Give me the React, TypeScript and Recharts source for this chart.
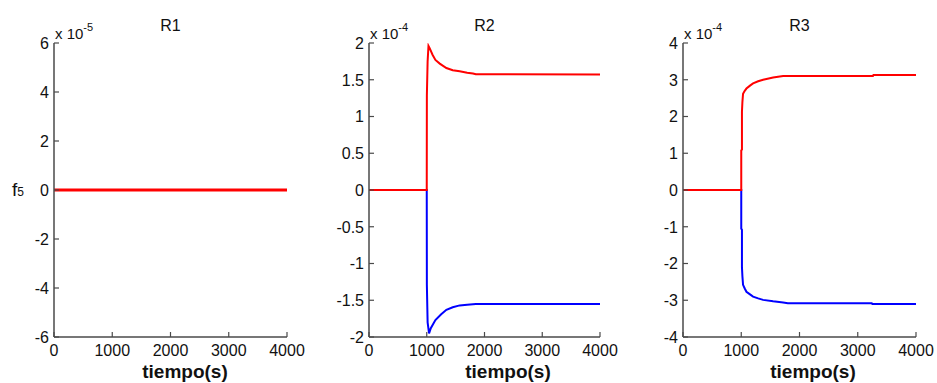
import React from 'react'
import { LineChart, Line, XAxis, YAxis } from 'recharts'

// f5 response of the three reactors, values in units of the multiplier shown above each axis
const TIME_TICKS = [0, 1000, 2000, 3000, 4000]
const R1_TICKS = [-6, -4, -2, 0, 2, 4, 6]
const R2_TICKS = [-2, -1.5, -1, -0.5, 0, 0.5, 1, 1.5, 2]
const R3_TICKS = [-4, -3, -2, -1, 0, 1, 2, 3, 4]

// [tiempo (s), f5]
const R1_RED: [number, number][] = [[0, 0], [4000, 0]]
const R1_BLUE: [number, number][] = [[0, 0], [4000, 0]]

const R2_RED: [number, number][] = [
  [0, 0], [1000, 0], [1002, 1.29], [1015, 1.75], [1030, 1.96], [1050, 1.93], [1100, 1.84],
  [1150, 1.77], [1225, 1.72], [1340, 1.66], [1450, 1.63], [1570, 1.615], [1700, 1.595],
  [1800, 1.585], [1850, 1.575], [4000, 1.57],
]
const R2_BLUE: [number, number][] = [
  [0, 0], [1000, 0], [1002, -1.29], [1015, -1.8], [1040, -1.95], [1070, -1.88], [1150, -1.77],
  [1250, -1.69], [1340, -1.63], [1450, -1.595], [1570, -1.57], [1700, -1.56], [1850, -1.55],
  [4000, -1.55],
]

const R3_RED: [number, number][] = [
  [0, 0], [1000, 0], [1000, 1.08], [1012, 1.1], [1012, 2.13], [1020, 2.4], [1031, 2.62],
  [1060, 2.7], [1089, 2.76], [1150, 2.84], [1203, 2.9], [1290, 2.96], [1375, 3.0],
  [1547, 3.06], [1719, 3.1], [3260, 3.1], [3270, 3.13], [4000, 3.13],
]
const R3_BLUE: [number, number][] = [
  [0, 0], [1000, 0], [1000, -1.05], [1012, -1.08], [1012, -2.1], [1020, -2.35], [1031, -2.58],
  [1060, -2.68], [1089, -2.77], [1150, -2.84], [1203, -2.9], [1290, -2.95], [1375, -2.99],
  [1547, -3.03], [1719, -3.06], [1800, -3.08], [3240, -3.08], [3250, -3.1], [4000, -3.1],
]

const FONT = '"Liberation Sans", Arial, sans-serif'
const AXIS = '#4a4a4a'
const TEXT = '#111'
const RED = '#ff0000'
const BLUE = '#0000ff'

const toRows = (pts: [number, number][]) => pts.map(([t, v]) => ({ t, v }))

// MATLAB-style ticks: short marks pointing into the plot, labels outside
function YTick({ x, y, payload }: any) {
  return (
    <g>
      <line x1={x} x2={x + 5} y1={y} y2={y} stroke={AXIS} strokeWidth={1.2} />
      <text x={x - 5} y={y} dy="0.36em" textAnchor="end" fontSize={16} fill={TEXT} fontFamily={FONT}>
        {String(payload.value)}
      </text>
    </g>
  )
}

function XTick({ x, y, payload }: any) {
  return (
    <g>
      <line x1={x} x2={x} y1={y} y2={y - 5} stroke={AXIS} strokeWidth={1.2} />
      <text x={x} y={y + 19} textAnchor="middle" fontSize={16} fill={TEXT} fontFamily={FONT}>
        {String(payload.value)}
      </text>
    </g>
  )
}

interface PanelProps {
  left: number
  width: number
  axisWidth: number
  rightMargin: number
  ticks: number[]
  red: [number, number][]
  blue: [number, number][]
  redWidth: number
  blueWidth: number
  title: string
  exponent: string
  xLabelCenter: number
}

const TOP = 43
const BOTTOM = 46
const HEIGHT = 383

function Panel({
  left, width, axisWidth, rightMargin, ticks, red, blue, redWidth, blueWidth, title, exponent, xLabelCenter,
}: PanelProps) {
  const plotLeft = axisWidth
  const plotRight = width - rightMargin
  return (
    <div style={{ position: 'absolute', left, top: 0, width, height: HEIGHT }}>
      <LineChart width={width} height={HEIGHT} margin={{ top: TOP, right: rightMargin, bottom: 0, left: 0 }}>
        <XAxis
          type="number"
          dataKey="t"
          domain={[0, 4000]}
          ticks={TIME_TICKS}
          interval={0}
          height={BOTTOM}
          tickSize={0}
          tickMargin={0}
          tick={<XTick />}
          axisLine={{ stroke: AXIS, strokeWidth: 1.5 }}
          allowDataOverflow
        />
        <YAxis
          type="number"
          dataKey="v"
          domain={[ticks[0], ticks[ticks.length - 1]]}
          ticks={ticks}
          interval={0}
          width={axisWidth}
          tickSize={0}
          tickMargin={0}
          tick={<YTick />}
          axisLine={{ stroke: AXIS, strokeWidth: 1.5 }}
          allowDataOverflow
        />
        <Line data={toRows(blue)} dataKey="v" type="linear" stroke={BLUE} strokeWidth={blueWidth} dot={false} isAnimationActive={false} />
        <Line data={toRows(red)} dataKey="v" type="linear" stroke={RED} strokeWidth={redWidth} dot={false} isAnimationActive={false} />
      </LineChart>
      <div
        style={{
          position: 'absolute', left: plotLeft, width: plotRight - plotLeft, top: 16,
          textAlign: 'center', fontFamily: FONT, fontSize: 16, color: TEXT, lineHeight: '20px',
        }}
      >
        {title}
      </div>
      <div
        style={{
          position: 'absolute', left: plotLeft + 1, top: 20, fontFamily: FONT, fontSize: 15,
          color: TEXT, lineHeight: '18px', whiteSpace: 'nowrap',
        }}
      >
        x 10<sup style={{ fontSize: 11, position: 'relative', top: -2 }}>{exponent}</sup>
      </div>
      <div
        style={{
          position: 'absolute', left: xLabelCenter - left - 60, width: 120, top: 361,
          textAlign: 'center', fontFamily: FONT, fontSize: 19, fontWeight: 'bold',
          color: TEXT, lineHeight: '22px',
        }}
      >
        tiempo(s)
      </div>
    </div>
  )
}

export default function App() {
  return (
    <div style={{ position: 'absolute', left: 0, top: 0, width: 937, height: HEIGHT, background: '#fff', overflow: 'hidden' }}>
      <Panel left={0} width={310} axisWidth={54} rightMargin={23} ticks={R1_TICKS} red={R1_RED} blue={R1_BLUE}
        redWidth={3} blueWidth={1} title="R1" exponent="-5" xLabelCenter={185} />
      <Panel left={310} width={310} axisWidth={59} rightMargin={20} ticks={R2_TICKS} red={R2_RED} blue={R2_BLUE}
        redWidth={2} blueWidth={2} title="R2" exponent="-4" xLabelCenter={508} />
      <Panel left={620} width={317} axisWidth={63} rightMargin={21} ticks={R3_TICKS} red={R3_RED} blue={R3_BLUE}
        redWidth={2} blueWidth={2} title="R3" exponent="-4" xLabelCenter={813} />
      <div style={{ position: 'absolute', left: 12, top: 180, fontFamily: FONT, color: TEXT, whiteSpace: 'nowrap', lineHeight: '20px' }}>
        <span style={{ fontSize: 19 }}>f</span>
        <span style={{ fontSize: 12 }}>5</span>
      </div>
    </div>
  )
}
